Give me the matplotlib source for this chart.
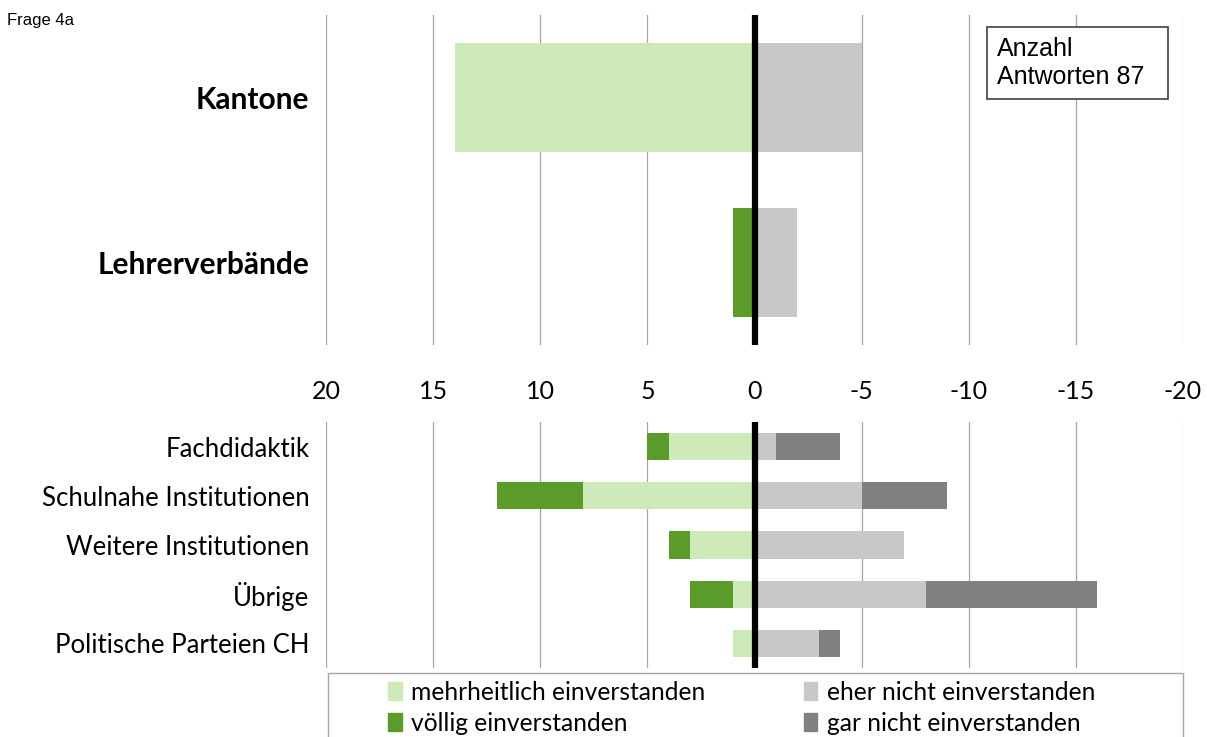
import numpy as np
import matplotlib.pyplot as plt
from matplotlib.patches import Rectangle

# Daten (Anzahl Antworten, positiv = einverstanden, links)
top_kat = ['Kantone', 'Lehrerverbände']
top_mehr = [14, 0]
top_voll = [0, 1]
top_eher_nicht = [5, 2]
top_gar_nicht = [0, 0]

bot_kat = ['Fachdidaktik', 'Schulnahe Institutionen', 'Weitere Institutionen',
           'Übrige', 'Politische Parteien CH']
bot_mehr = [4, 8, 3, 1, 1]
bot_voll = [1, 4, 1, 2, 0]
bot_eher_nicht = [1, 5, 7, 8, 3]
bot_gar_nicht = [3, 4, 0, 8, 1]

ticks = [20, 15, 10, 5, 0, -5, -10, -15, -20]

c_mehr = '#cdeab8'
c_voll = '#5b9b2a'
c_eher = '#c8c8c8'
c_gar = '#808080'
grid_c = '#a6a6a6'

plt.rcParams['font.family'] = ['Lato', 'DejaVu Sans']

fig = plt.figure(figsize=(12.07, 7.37), dpi=100)
W, H = 1207, 737
ax1 = fig.add_axes([326 / W, 1 - 345 / H, 857 / W, 330 / H])
ax2 = fig.add_axes([326 / W, 1 - 668 / H, 857 / W, 246 / H])


def zeichne(ax, kat, mehr, voll, eher, gar, hoehe):
    y = np.arange(len(kat))
    mehr = np.array(mehr)
    voll = np.array(voll)
    eher = np.array(eher)
    gar = np.array(gar)
    ax.barh(y, mehr, height=hoehe, color=c_mehr, zorder=2)
    ax.barh(y, voll, left=mehr, height=hoehe, color=c_voll, zorder=2)
    ax.barh(y, -eher, height=hoehe, color=c_eher, zorder=2)
    ax.barh(y, -gar, left=-eher, height=hoehe, color=c_gar, zorder=2)
    ax.set_xlim(20, -20)
    ax.set_ylim(len(kat) - 0.5, -0.5)
    ax.set_xticks(ticks)
    ax.grid(axis='x', color=grid_c, linewidth=0.9, zorder=0)
    ax.axvline(0, color='black', linewidth=4.5, zorder=3)
    for s in ax.spines.values():
        s.set_visible(False)
    ax.set_yticks(y)
    ax.tick_params(axis='y', length=0, pad=12)


zeichne(ax1, top_kat, top_mehr, top_voll, top_eher_nicht, top_gar_nicht, 0.66)
zeichne(ax2, bot_kat, bot_mehr, bot_voll, bot_eher_nicht, bot_gar_nicht, 0.55)

ax1.set_yticklabels(top_kat, fontsize=21.5, fontweight='bold')
ax2.set_yticklabels(bot_kat, fontsize=18.5)
ax1.set_xticklabels([str(t) for t in ticks], fontsize=18)
ax1.tick_params(axis='x', length=0, pad=25)
ax2.tick_params(axis='x', length=0, labelbottom=False)

fig.text(7 / W, 1 - 20 / H, 'Frage 4a', fontsize=12, family='Liberation Sans',
         va='center', ha='left')

# Kasten "Anzahl Antworten"
fig.patches.append(Rectangle((987 / W, 1 - 99 / H), 181 / W, 72 / H,
                             transform=fig.transFigure, facecolor='white',
                             edgecolor='#404040', linewidth=1.2, zorder=5))
fig.text(997 / W, 1 - 63 / H, 'Anzahl\nAntworten 87', fontsize=18,
         family='Liberation Sans', va='center', ha='left', linespacing=1.2,
         zorder=6)

# Legende
fig.patches.append(Rectangle((328 / W, -0.05), 855 / W, 0.05 + 1 - 673 / H,
                             transform=fig.transFigure, facecolor='white',
                             edgecolor=grid_c, linewidth=1.0))
handles = [Rectangle((0, 0), 1, 1, color=c) for c in (c_mehr, c_voll, c_eher, c_gar)]
labels = ['mehrheitlich einverstanden', 'völlig einverstanden',
          'eher nicht einverstanden', 'gar nicht einverstanden']
fig.legend(handles, labels, ncol=2, frameon=False, fontsize=17.7,
           loc='upper left', bbox_to_anchor=(388 / W, 1 - 681 / H),
           handlelength=0.55, handleheight=0.75, handletextpad=0.4,
           columnspacing=4.0, labelspacing=0.32, borderaxespad=0, borderpad=0)

fig.savefig('out.png', dpi=100)
